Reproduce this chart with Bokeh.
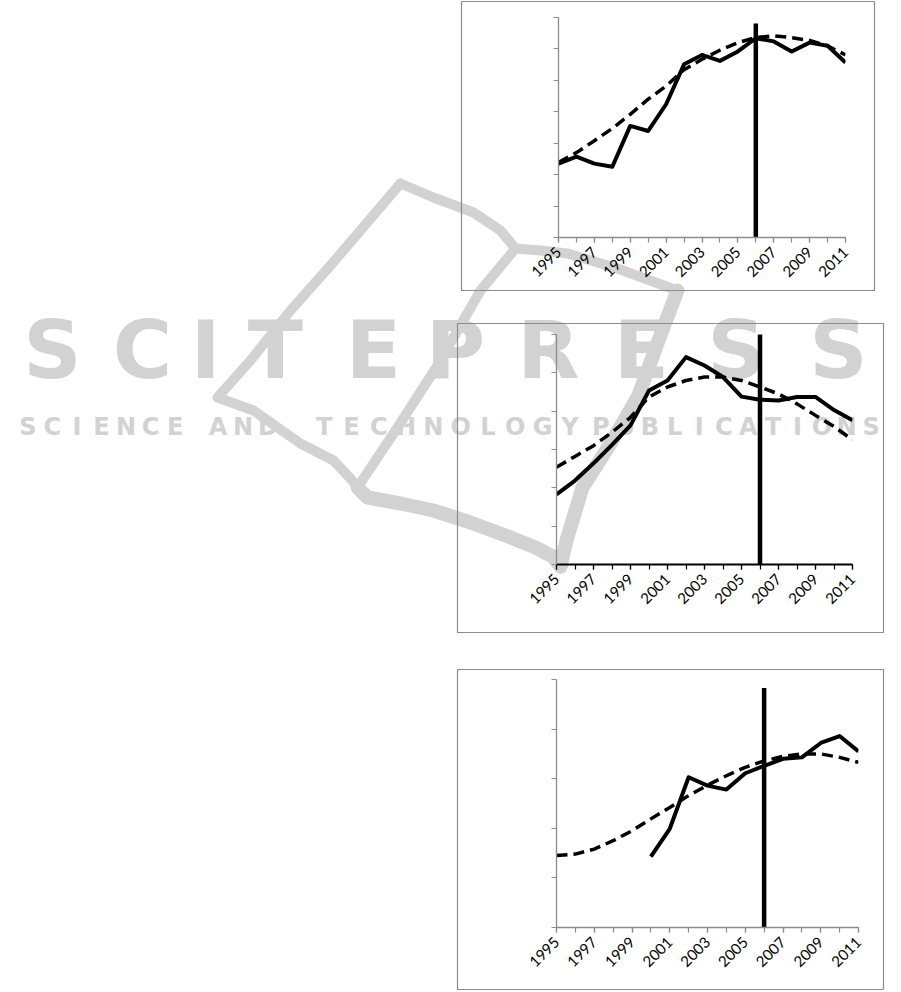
from math import pi
from bokeh.plotting import figure
from bokeh.models import Range1d, FixedTicker, Spacer
from bokeh.layouts import column
from bokeh.embed import file_html
from bokeh.resources import INLINE

nan = float("nan")

# ---------------- data ----------------
years = list(range(1995, 2012))
label_years = [y for y in years if (y - 1995) % 2 == 0]
cut_year = 2006

p1_actual = [2.35, 2.57, 2.35, 2.25, 3.55, 3.39, 4.24, 5.51, 5.81, 5.62, 5.92, 6.34, 6.24, 5.92, 6.20, 6.10, 5.57]
p1_trend = [2.39, 2.70, 3.08, 3.47, 3.92, 4.40, 4.82, 5.34, 5.67, 5.96, 6.20, 6.36, 6.42, 6.36, 6.27, 6.10, 5.81]
p1_cut = [-0.05, 6.81]

p2_actual = [1.83, 2.19, 2.64, 3.12, 3.63, 4.54, 4.80, 5.41, 5.19, 4.89, 4.38, 4.30, 4.28, 4.37, 4.37, 4.03, 3.76]
p2_trend = [2.54, 2.82, 3.10, 3.45, 3.84, 4.37, 4.63, 4.80, 4.89, 4.89, 4.80, 4.63, 4.45, 4.19, 3.89, 3.60, 3.25]
p2_cut = [-0.08, 6.03]

p3_actual = [nan, nan, nan, nan, nan, 1.43, 1.99, 3.03, 2.86, 2.78, 3.11, 3.26, 3.40, 3.43, 3.72, 3.86, 3.55]
p3_trend = [1.45, 1.48, 1.58, 1.75, 1.95, 2.19, 2.42, 2.66, 2.87, 3.06, 3.23, 3.36, 3.45, 3.50, 3.50, 3.43, 3.33]
p3_cut = [-0.1, 4.83]

# ---------------- page layout (pixels) ----------------
PAGE_W, PAGE_H = 890, 991
BL, BR = 36, 6          # common left/right borders (plots in a column share them)
# panel boxes: left, top, right, bottom
boxes = [(461, 1, 874, 290), (457, 323, 883, 632), (457, 669, 883, 989)]
# plot frames: left, top, right, bottom
frames = [(558, 17, 845, 237), (556, 334, 852, 564), (556, 679, 858, 927)]

# ---------------- watermark (decoration) ----------------
WM = "#d2d2d2"
wm_title = list("SCITEPRESS")
wm_title_x = [52, 142, 205, 275, 373, 455, 548, 641, 736, 838]
wm_words = ["SCIENCE", "AND", "TECHNOLOGY", "PUBLICATIONS"]
wm_word_spans = [(15, 187), (205, 280), (310, 583), (588, 883)]
logo_paths = [
    [(400, 183), (330, 265), (290, 310), (250, 360), (217, 397), (253, 410), (300, 443), (333, 460), (350, 478), (357, 487)],
    [(400, 183), (433, 197), (473, 212), (500, 230), (515, 248), (540, 250), (567, 253), (617, 268), (677, 290)],
    [(515, 248), (480, 290), (437, 365), (395, 430), (357, 487)],
]
logo_thick = [
    [(677, 290), (658, 340), (638, 395), (612, 440), (582, 487), (566, 540), (560, 566)],
    [(357, 487), (367, 497), (400, 503), (433, 510), (470, 522), (505, 535), (535, 547), (552, 556), (560, 566)],
]

# page layer: absolutely placed so that its frame covers x 0..PAGE_W of the page
bg = figure(width=PAGE_W + BL + BR, height=PAGE_H, x_range=Range1d(0, PAGE_W), y_range=Range1d(PAGE_H, 0),
            output_backend="svg", toolbar_location=None,
            x_axis_location=None, y_axis_location=None,
            min_border_left=BL, min_border_right=BR, min_border_top=0, min_border_bottom=0,
            styles={"position": "absolute", "left": f"-{BL}px", "top": "0px",
                    "max-width": "none", "max-height": "none",
                    "width": f"{PAGE_W + BL + BR}px", "height": f"{PAGE_H}px"})
bg.grid.visible = False
bg.outline_line_color = None
bg.multi_line([[p[0] for p in path] for path in logo_paths], [[p[1] for p in path] for path in logo_paths],
              line_color=WM, line_width=10, line_join="round", line_cap="round")
bg.multi_line([[p[0] for p in path] for path in logo_thick], [[p[1] for p in path] for path in logo_thick],
              line_color=WM, line_width=14, line_join="round", line_cap="round")
bg.text(x=wm_title_x, y=[349] * len(wm_title), text=wm_title, text_color=WM,
        text_font_size="81px", text_font_style="bold", text_align="center",
        text_baseline="middle", text_font={"value": "DejaVu Sans"})
lx, lt = [], []
for word, (a, b) in zip(wm_words, wm_word_spans):
    pitch = (b - a) / len(word)
    for i, ch in enumerate(word):
        lx.append(a + (i + 0.5) * pitch)
        lt.append(ch)
bg.text(x=lx, y=[426] * len(lt), text=lt, text_color=WM, text_font_size="24px",
        text_font_style="bold", text_align="center", text_baseline="middle",
        text_font={"value": "DejaVu Sans"})
# panel frames (boxes) drawn on the page layer
bg.quad(left=[b[0] for b in boxes], top=[b[1] for b in boxes], right=[b[2] for b in boxes],
        bottom=[b[3] for b in boxes], fill_color=None, line_color="#8c8c8c", line_width=1.2)


# ---------------- charts ----------------
def make_panel(frame, ymax, actual, trend, cut, xcol, xw, top_pad=8, bottom_pad=58):
    fl, ft, fr, fb = frame
    p = figure(width=(fr - fl) + BL + BR, height=(fb - ft) + top_pad + bottom_pad,
               x_range=Range1d(years[0], years[-1]), y_range=Range1d(0, ymax),
               output_backend="svg", toolbar_location=None,
               min_border_left=BL, min_border_right=BR, min_border_top=top_pad, min_border_bottom=bottom_pad,
               background_fill_alpha=0, border_fill_alpha=0,
               styles={"position": "absolute", "left": f"{fl - BL}px", "top": f"{ft - top_pad}px"})
    p.grid.visible = False
    p.outline_line_color = None

    xa = p.xaxis[0]
    xa.ticker = FixedTicker(ticks=label_years, minor_ticks=years)
    xa.major_label_orientation = pi / 4
    xa.axis_line_color = xcol
    xa.axis_line_width = xw
    for attr in ("major_tick", "minor_tick"):
        setattr(xa, attr + "_line_color", xcol)
        setattr(xa, attr + "_line_width", 1.2)
        setattr(xa, attr + "_out", 5)
        setattr(xa, attr + "_in", 0)
    xa.major_label_text_font = "Lato"
    xa.major_label_text_font_size = "15px"
    xa.major_label_text_color = "black"
    xa.major_label_standoff = 7

    ya = p.yaxis[0]
    ya.ticker = FixedTicker(ticks=[], minor_ticks=list(range(0, ymax + 1)))
    ya.axis_line_color = "#8c8c8c"
    ya.axis_line_width = 1.3
    ya.minor_tick_line_color = "#8c8c8c"
    ya.minor_tick_line_width = 1.2
    ya.minor_tick_out = 5
    ya.minor_tick_in = 0
    ya.major_label_standoff = 0
    ya.major_label_text_font_size = "0px"

    p.line(years, trend, line_color="black", line_width=3.5, line_dash="11 6")
    p.line(years, actual, line_color="black", line_width=4, line_join="round")
    p.line([cut_year, cut_year], cut, line_color="black", line_width=4.5)
    return p


p1 = make_panel(frames[0], 7, p1_actual, p1_trend, p1_cut, "#8c8c8c", 1.5)
p2 = make_panel(frames[1], 6, p2_actual, p2_trend, p2_cut, "black", 2.2)
p3 = make_panel(frames[2], 5, p3_actual, p3_trend, p3_cut, "#8c8c8c", 1.5)

root = column(Spacer(width=PAGE_W - 10, height=PAGE_H - 6), bg, p1, p2, p3, styles={"position": "relative"})

open("out.html", "w").write(file_html(root, INLINE))
